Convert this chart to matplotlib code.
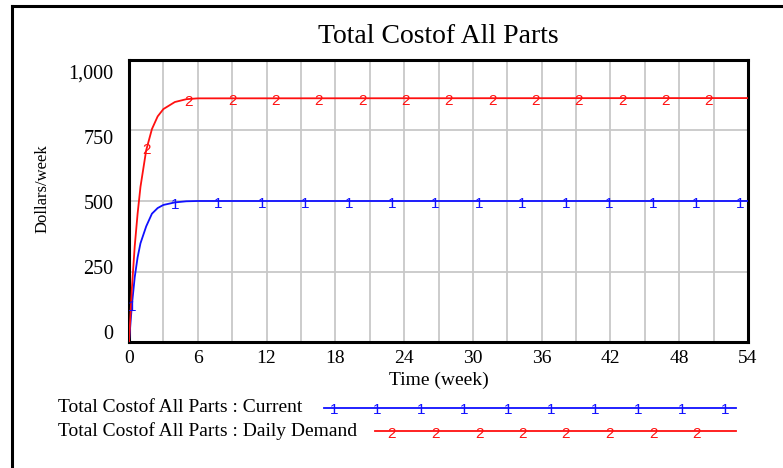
import numpy as np
import matplotlib
matplotlib.use("Agg")
import matplotlib.pyplot as plt

# time axis (weeks) and the two runs
time = [0, 0.25, 0.5, 0.75, 1, 1.5, 2, 2.5, 3, 4, 5, 6, 54]
current = [0, 130, 230, 300, 350, 410, 455, 475, 486, 495, 499, 500, 500]
daily_demand = [0, 190, 340, 455, 550, 680, 755, 800, 826, 851, 861, 864, 865]

series_names = ["Total Costof All Parts : Current",
                "Total Costof All Parts : Daily Demand"]
x_ticks = [0, 6, 12, 18, 24, 30, 36, 42, 48, 54]
y_ticks = [0, 250, 500, 750, 1000]
y_ticklabels = ["0", "250", "500", "750", "1,000"]

BLUE = "#1010ff"
RED = "#ff1010"
GRID = "#c8c8c8"
SERIF = "Liberation Serif"
SANS = "Liberation Sans"

W, H = 783, 468
fig = plt.figure(figsize=(W / 100, H / 100), dpi=100)

# plot box in pixel coordinates
left, right, top, bottom = 129, 748, 60, 342
ax = fig.add_axes([left / W, 1 - bottom / H, (right - left) / W, (bottom - top) / H])
ax.set_xlim(0, 54)
ax.set_ylim(0, 1000)

ax.set_xticks(x_ticks)
ax.set_xticklabels([str(t) for t in x_ticks], fontfamily=SERIF, fontsize=14)
ax.tick_params(axis="x", which="both", length=0, pad=6)

# Vensim puts the y labels on a slightly squeezed scale (12px / 10px in from the ends)
px_per_unit = (bottom - top) / 1000
label_pos = [(10 + v * (bottom - top - 22) / 1000) / px_per_unit for v in y_ticks]
ax.set_yticks(label_pos)
ax.set_yticklabels(y_ticklabels, fontfamily=SERIF, fontsize=14.5)
ax.tick_params(axis="y", which="both", length=0, pad=11)

ax.grid(False)
for t in np.arange(3, 54, 3):
    ax.axvline(t, color=GRID, lw=1.3, zorder=0)
for v in y_ticks[1:-1]:
    ax.axhline(v, color=GRID, lw=1.3, zorder=0)

for s in ax.spines.values():
    s.set_linewidth(2.2)

ax.set_xlabel("Time (week)", fontfamily=SERIF, fontsize=14, labelpad=3)
ax.set_ylabel("Dollars/week", fontfamily=SERIF, fontsize=12)
ax.yaxis.set_label_coords((51 - left) / (right - left), (bottom - 189) / (bottom - top))
ax.set_title("Total Costof All Parts", fontfamily=SERIF, fontsize=20, pad=12)


def number_marks(axis, xs, ys, label, color, starts, step, stop):
    marks = np.concatenate([[starts[0]], np.arange(starts[1], stop, step)])
    for m in marks:
        axis.annotate(label, (m, np.interp(m, xs, ys)), xytext=(0, -2),
                      textcoords="offset points", ha="center", va="center",
                      color=color, fontsize=11, fontfamily=SANS, zorder=4)


ax.plot(time, current, color=BLUE, lw=1.3, zorder=3)
ax.plot(time, daily_demand, color=RED, lw=1.3, zorder=3)
number_marks(ax, time, current, "1", BLUE, (0.26, 4.0), 3.79, 54)
number_marks(ax, time, daily_demand, "2", RED, (1.57, 5.23), 3.78, 51)

# overlay in pixel coordinates for the legend and the outer frame
ov = fig.add_axes([0, 0, 1, 1], zorder=-1)
ov.set_xlim(0, W)
ov.set_ylim(H, 0)
ov.axis("off")
ov.plot([12, 12], [6, H], color="black", lw=2.2, solid_capstyle="projecting")
ov.plot([12, W], [6, 6], color="black", lw=2.2, solid_capstyle="projecting")

legend_rows = [
    (series_names[0], BLUE, "1", 408, 324, 334),
    (series_names[1], RED, "2", 431, 375, 392),
]
for name, color, lab, y, x0, m0 in legend_rows:
    ov.text(58, y, name, fontfamily=SERIF, fontsize=14, va="center", ha="left")
    ov.plot([x0, 736], [y, y], color=color, lw=1.3)
    for mx in np.arange(m0, 736, 43.5):
        ov.text(mx, y + 2.5, lab, color=color, fontsize=11, fontfamily=SANS,
                ha="center", va="center")

fig.savefig("out.png", dpi=100)
